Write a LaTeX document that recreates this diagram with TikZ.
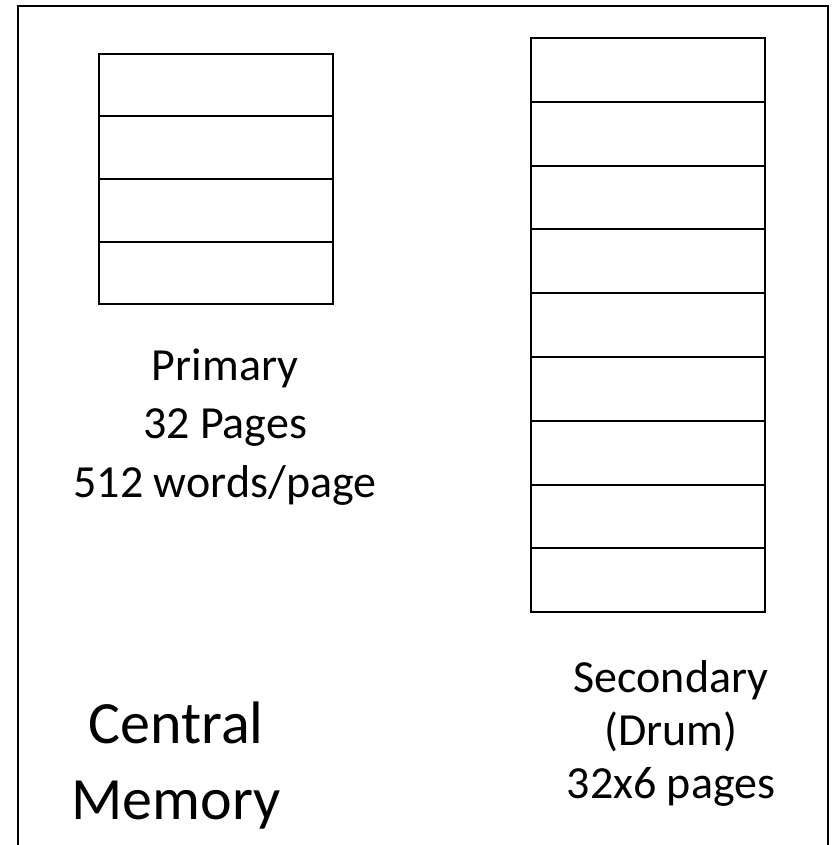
\documentclass[tikz,border=0pt]{standalone}
\usepackage{fontspec}
\setmainfont{Carlito}

\begin{document}
\begin{tikzpicture}[x=1pt, y=-1pt,
	pagebox/.style={draw, line width=2pt, minimum width=234pt, minimum height=#1, inner sep=0pt, outer sep=0pt, anchor=north west},
	pagetext/.style={font=\fontsize{46}{54}\selectfont, anchor=base, inner sep=0pt},
	bigtext/.style={font=\fontsize{60}{72}\selectfont, anchor=base, inner sep=0pt}]
	\useasboundingbox (0,0) rectangle (831,845);
	\draw[line width=2.7pt] (18,850) -- (18,6) -- (828,6) -- (828,850);
	% primary store, 4 rows
	\foreach \i in {1,...,4} {\node[pagebox=62.5pt] (p\i) at (99,{54+(\i-1)*62.5}) {};}
	% drum, 9 rows
	\foreach \i in {1,...,9} {\node[pagebox=63.8pt] (s\i) at (531,{38+(\i-1)*63.8}) {};}
	\node[pagetext] (prim1) at (225,380) {Primary};
	\node[pagetext] (prim2) at (225,438) {32 Pages};
	\node[pagetext] (prim3) at (225,497) {512 words/page};
	\node[pagetext] (sec1) at (671,692) {Secondary};
	\node[pagetext] (sec2) at (671,745) {(Drum)};
	\node[pagetext] (sec3) at (671,798) {32x6 pages};
	\node[bigtext] (cm1) at (176,743) {Central};
	\node[bigtext] (cm2) at (176,819) {Memory};
\end{tikzpicture}
\end{document}
